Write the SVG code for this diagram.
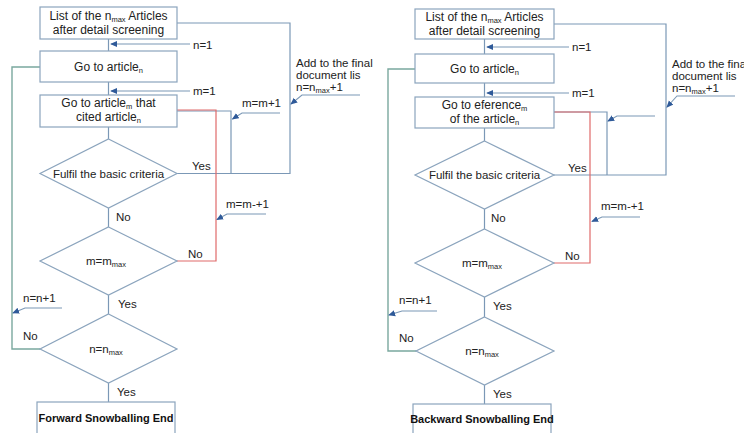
<svg xmlns="http://www.w3.org/2000/svg" width="744" height="433" viewBox="0 0 744 433">
<defs>
<style>
.box{fill:#fff;stroke:#8ba4bd;stroke-width:1.2}
.ln{fill:none;stroke:#7b98b6;stroke-width:1.2}
.gr{fill:none;stroke:#7aa89e;stroke-width:1.4}
.rd{fill:none;stroke:#e06a6a;stroke-width:1.2}
.ar{fill:none;stroke:#7b98b6;stroke-width:1.1;marker-end:url(#ah)}
text{font-family:"Liberation Sans",Arial,sans-serif;fill:#222}
.t{font-size:12px;text-anchor:middle}
.d{font-size:11.5px;text-anchor:middle}
.l{font-size:11.5px}
.e{font-size:11px;font-weight:bold;text-anchor:middle;fill:#111}
.s{font-size:7.5px}
</style>
<marker id="ah" viewBox="0 0 8 8" refX="7" refY="4" markerWidth="7" markerHeight="7" markerUnits="userSpaceOnUse" orient="auto">
<path d="M0,0.5 L8,4 L0,7.5 z" fill="#2f5a99"/>
</marker>
</defs>
<rect width="744" height="433" fill="#fff"/>

<g id="connectors">
<!-- left -->
<path class="ln" d="M108.5,39 V51 M108.5,82 V95 M108.5,127 V139 M108.5,208 V227 M108.5,295 V314 M108.5,383 V402"/>
<path class="ln" d="M177,173.5 H290 V23 H177"/>
<path class="ln" d="M177,111 H231 V173.5"/>
<path class="rd" d="M177,110 H216 V261 H177"/>
<path class="gr" d="M40,67 H12 V349 H40"/>
<path class="ar" d="M190,44 H111"/>
<path class="ar" d="M190,91 H111"/>
<path class="ar" d="M280,113 H242 L232.5,119"/>
<path class="ar" d="M360,95 H302 L291,104"/>
<path class="ar" d="M266,214 H227 L217,219.5"/>
<path class="ar" d="M62,308 H25 L13,313"/>
<!-- right -->
<path class="ln" d="M484.5,39 V54 M484.5,83 V97 M484.5,128 V141 M484.5,209 V229 M484.5,297 V317 M484.5,385 V404"/>
<path class="ln" d="M554,175 H666 V24 H554"/>
<path class="ln" d="M554,112 H607 V175"/>
<path class="rd" d="M554,112 H590 V263 H554"/>
<path class="gr" d="M415,69 H388 V351 H416"/>
<path class="ar" d="M569,47 H487"/>
<path class="ar" d="M569,93 H487"/>
<path class="ar" d="M655,116 H617 L608,121"/>
<path class="ar" d="M735,96 H677 L667,107"/>
<path class="ar" d="M640,217 H602 L592,221.5"/>
<path class="ar" d="M437,311 H402 L389,315"/>
</g>

<!-- LEFT diagram -->
<g id="L-list">
<rect class="box" x="40" y="7" width="137" height="32"/>
<text class="t" x="108.5" y="20">List of the n<tspan class="s" dy="2">max</tspan><tspan dy="-2"> Articles</tspan></text>
<text class="t" x="108.5" y="34">after detail screening</text>
</g>
<g id="L-article">
<rect class="box" x="40" y="51" width="137" height="31"/>
<text class="t" x="108.5" y="71">Go to article<tspan class="s" dy="2">n</tspan></text>
</g>
<g id="L-cited">
<rect class="box" x="40" y="95" width="137" height="32"/>
<text class="t" x="108.5" y="107">Go to article<tspan class="s" dy="2">m</tspan><tspan dy="-2"> that</tspan></text>
<text class="t" x="108.5" y="121">cited article<tspan class="s" dy="2">n</tspan></text>
</g>
<g id="L-criteria">
<path class="box" d="M108.5,139 L177,173.5 L108.5,208 L40,173.5 z"/>
<text class="d" x="108.5" y="177.5">Fulfil the basic criteria</text>
</g>
<g id="L-mmax">
<path class="box" d="M108.5,227 L177,261 L108.5,295 L40,261 z"/>
<text class="d" x="106" y="265">m=m<tspan class="s" dy="2">max</tspan></text>
</g>
<g id="L-nmax">
<path class="box" d="M108.5,314 L177,349 L108.5,383 L40,349 z"/>
<text class="d" x="106" y="353">n=n<tspan class="s" dy="2">max</tspan></text>
</g>
<g id="L-end">
<rect class="box" x="37" y="402" width="138" height="40"/>
<text class="e" x="106" y="422">Forward Snowballing End</text>
</g>
<g id="L-labels">
<text class="l" x="193" y="49">n=1</text>
<text class="l" x="193" y="95">m=1</text>
<text class="l" x="242" y="107">m=m+1</text>
<text class="l" x="296" y="67">Add to the final</text>
<text class="l" x="296" y="79">document lis</text>
<text class="l" x="296" y="91">n=n<tspan class="s" dy="2">max</tspan><tspan dy="-2">+1</tspan></text>
<text class="l" x="192" y="170">Yes</text>
<text class="l" x="116" y="221">No</text>
<text class="l" x="226" y="208">m=m-+1</text>
<text class="l" x="188" y="258">No</text>
<text class="l" x="118" y="308">Yes</text>
<text class="l" x="23" y="302">n=n+1</text>
<text class="l" x="23" y="340">No</text>
<text class="l" x="117" y="396">Yes</text>
</g>

<!-- RIGHT diagram -->
<g id="R-list">
<rect class="box" x="415" y="9" width="139" height="30"/>
<text class="t" x="484.5" y="21">List of the n<tspan class="s" dy="2">max</tspan><tspan dy="-2"> Articles</tspan></text>
<text class="t" x="484.5" y="35">after detail screening</text>
</g>
<g id="R-article">
<rect class="box" x="415" y="54" width="139" height="29"/>
<text class="t" x="484.5" y="73">Go to article<tspan class="s" dy="2">n</tspan></text>
</g>
<g id="R-reference">
<rect class="box" x="415" y="97" width="139" height="31"/>
<text class="t" x="484.5" y="109">Go to eference<tspan class="s" dy="2">m</tspan></text>
<text class="t" x="484.5" y="123">of the article<tspan class="s" dy="2">n</tspan></text>
</g>
<g id="R-criteria">
<path class="box" d="M484.5,141 L554,175 L484.5,209 L415,175 z"/>
<text class="d" x="484.5" y="179">Fulfil the basic criteria</text>
</g>
<g id="R-mmax">
<path class="box" d="M484.5,229 L554,263 L484.5,297 L415,263 z"/>
<text class="d" x="482" y="267">m=m<tspan class="s" dy="2">max</tspan></text>
</g>
<g id="R-nmax">
<path class="box" d="M484.5,317 L554,351 L484.5,385 L416,351 z"/>
<text class="d" x="482" y="355">n=n<tspan class="s" dy="2">max</tspan></text>
</g>
<g id="R-end">
<rect class="box" x="413" y="404" width="138" height="40"/>
<text class="e" x="482" y="423">Backward Snowballing End</text>
</g>
<g id="R-labels">
<text class="l" x="572" y="51">n=1</text>
<text class="l" x="572" y="97">m=1</text>
<text class="l" x="672" y="68">Add to the final</text>
<text class="l" x="672" y="80">document lis</text>
<text class="l" x="672" y="92">n=n<tspan class="s" dy="2">max</tspan><tspan dy="-2">+1</tspan></text>
<text class="l" x="568" y="172">Yes</text>
<text class="l" x="491" y="222">No</text>
<text class="l" x="601" y="210">m=m-+1</text>
<text class="l" x="565" y="260">No</text>
<text class="l" x="493" y="310">Yes</text>
<text class="l" x="399" y="304">n=n+1</text>
<text class="l" x="399" y="342">No</text>
<text class="l" x="493" y="398">Yes</text>
</g>
</svg>
